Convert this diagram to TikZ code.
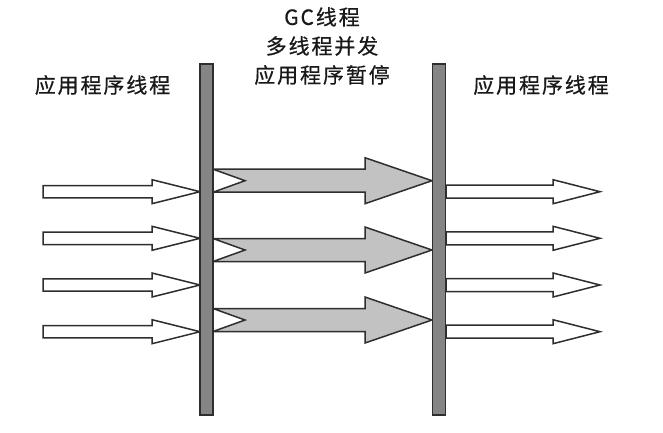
\documentclass[tikz,border=0pt]{standalone}
\usepackage{fontspec}
\newfontfamily\cjk[LetterSpace=9,FakeBold=0.6]{Noto Sans CJK SC}
\definecolor{barfill}{HTML}{858585}
\definecolor{edge}{HTML}{2E2E2E}
\definecolor{gcfill}{HTML}{C2C2C2}
\begin{document}
\begin{tikzpicture}[x=1pt,y=-1pt,
  bar/.style={draw=edge,fill=barfill,line width=1.6pt,inner sep=0pt,minimum width=13pt,minimum height=351pt},
  appArrow/.style={draw=edge,fill=white,line width=1.5pt,line join=miter},
  gcArrow/.style={draw=edge,fill=gcfill,line width=1.5pt,line join=miter},
  lbl/.style={font=\cjk\fontsize{21}{29}\selectfont,text=black!90,inner sep=0pt,align=center}]
\useasboundingbox (0,0) rectangle (663,432);
% labels
\node[lbl] (gc) at (322,46) {GC线程\\多线程并发\\应用程序暂停};
\node[lbl] (appL) at (102.5,85) {应用程序线程};
\node[lbl] (appR) at (541,85) {应用程序线程};
% incoming application threads
\foreach \c [count=\i] in {191.7,238.3,285,331.7}{
  \draw[appArrow] (43,\c-6.2) -- (152,\c-6.2) -- (152,\c-12) -- (200,\c) -- (152,\c+12) -- (152,\c+6.2) -- (43,\c+6.2) -- cycle;
}
% GC threads
\foreach \c [count=\i] in {180.7,250,320}{
  \draw[gcArrow] (213,\c-11.5) -- (365,\c-11.5) -- (365,\c-23) -- (432,\c) -- (365,\c+23) -- (365,\c+11.5) -- (213,\c+11.5) -- (245,\c) -- cycle;
}
% outgoing application threads
\foreach \c [count=\i] in {191.7,238.3,285,331.7}{
  \draw[appArrow] (446,\c-6.5) -- (553,\c-6.5) -- (553,\c-12) -- (600,\c) -- (553,\c+12) -- (553,\c+6.5) -- (446,\c+6.5) -- cycle;
}
% safepoint bars
\node[bar] (barL) at (206.5,239.5) {};
\node[bar] (barR) at (439,239.5) {};
\end{tikzpicture}
\end{document}
